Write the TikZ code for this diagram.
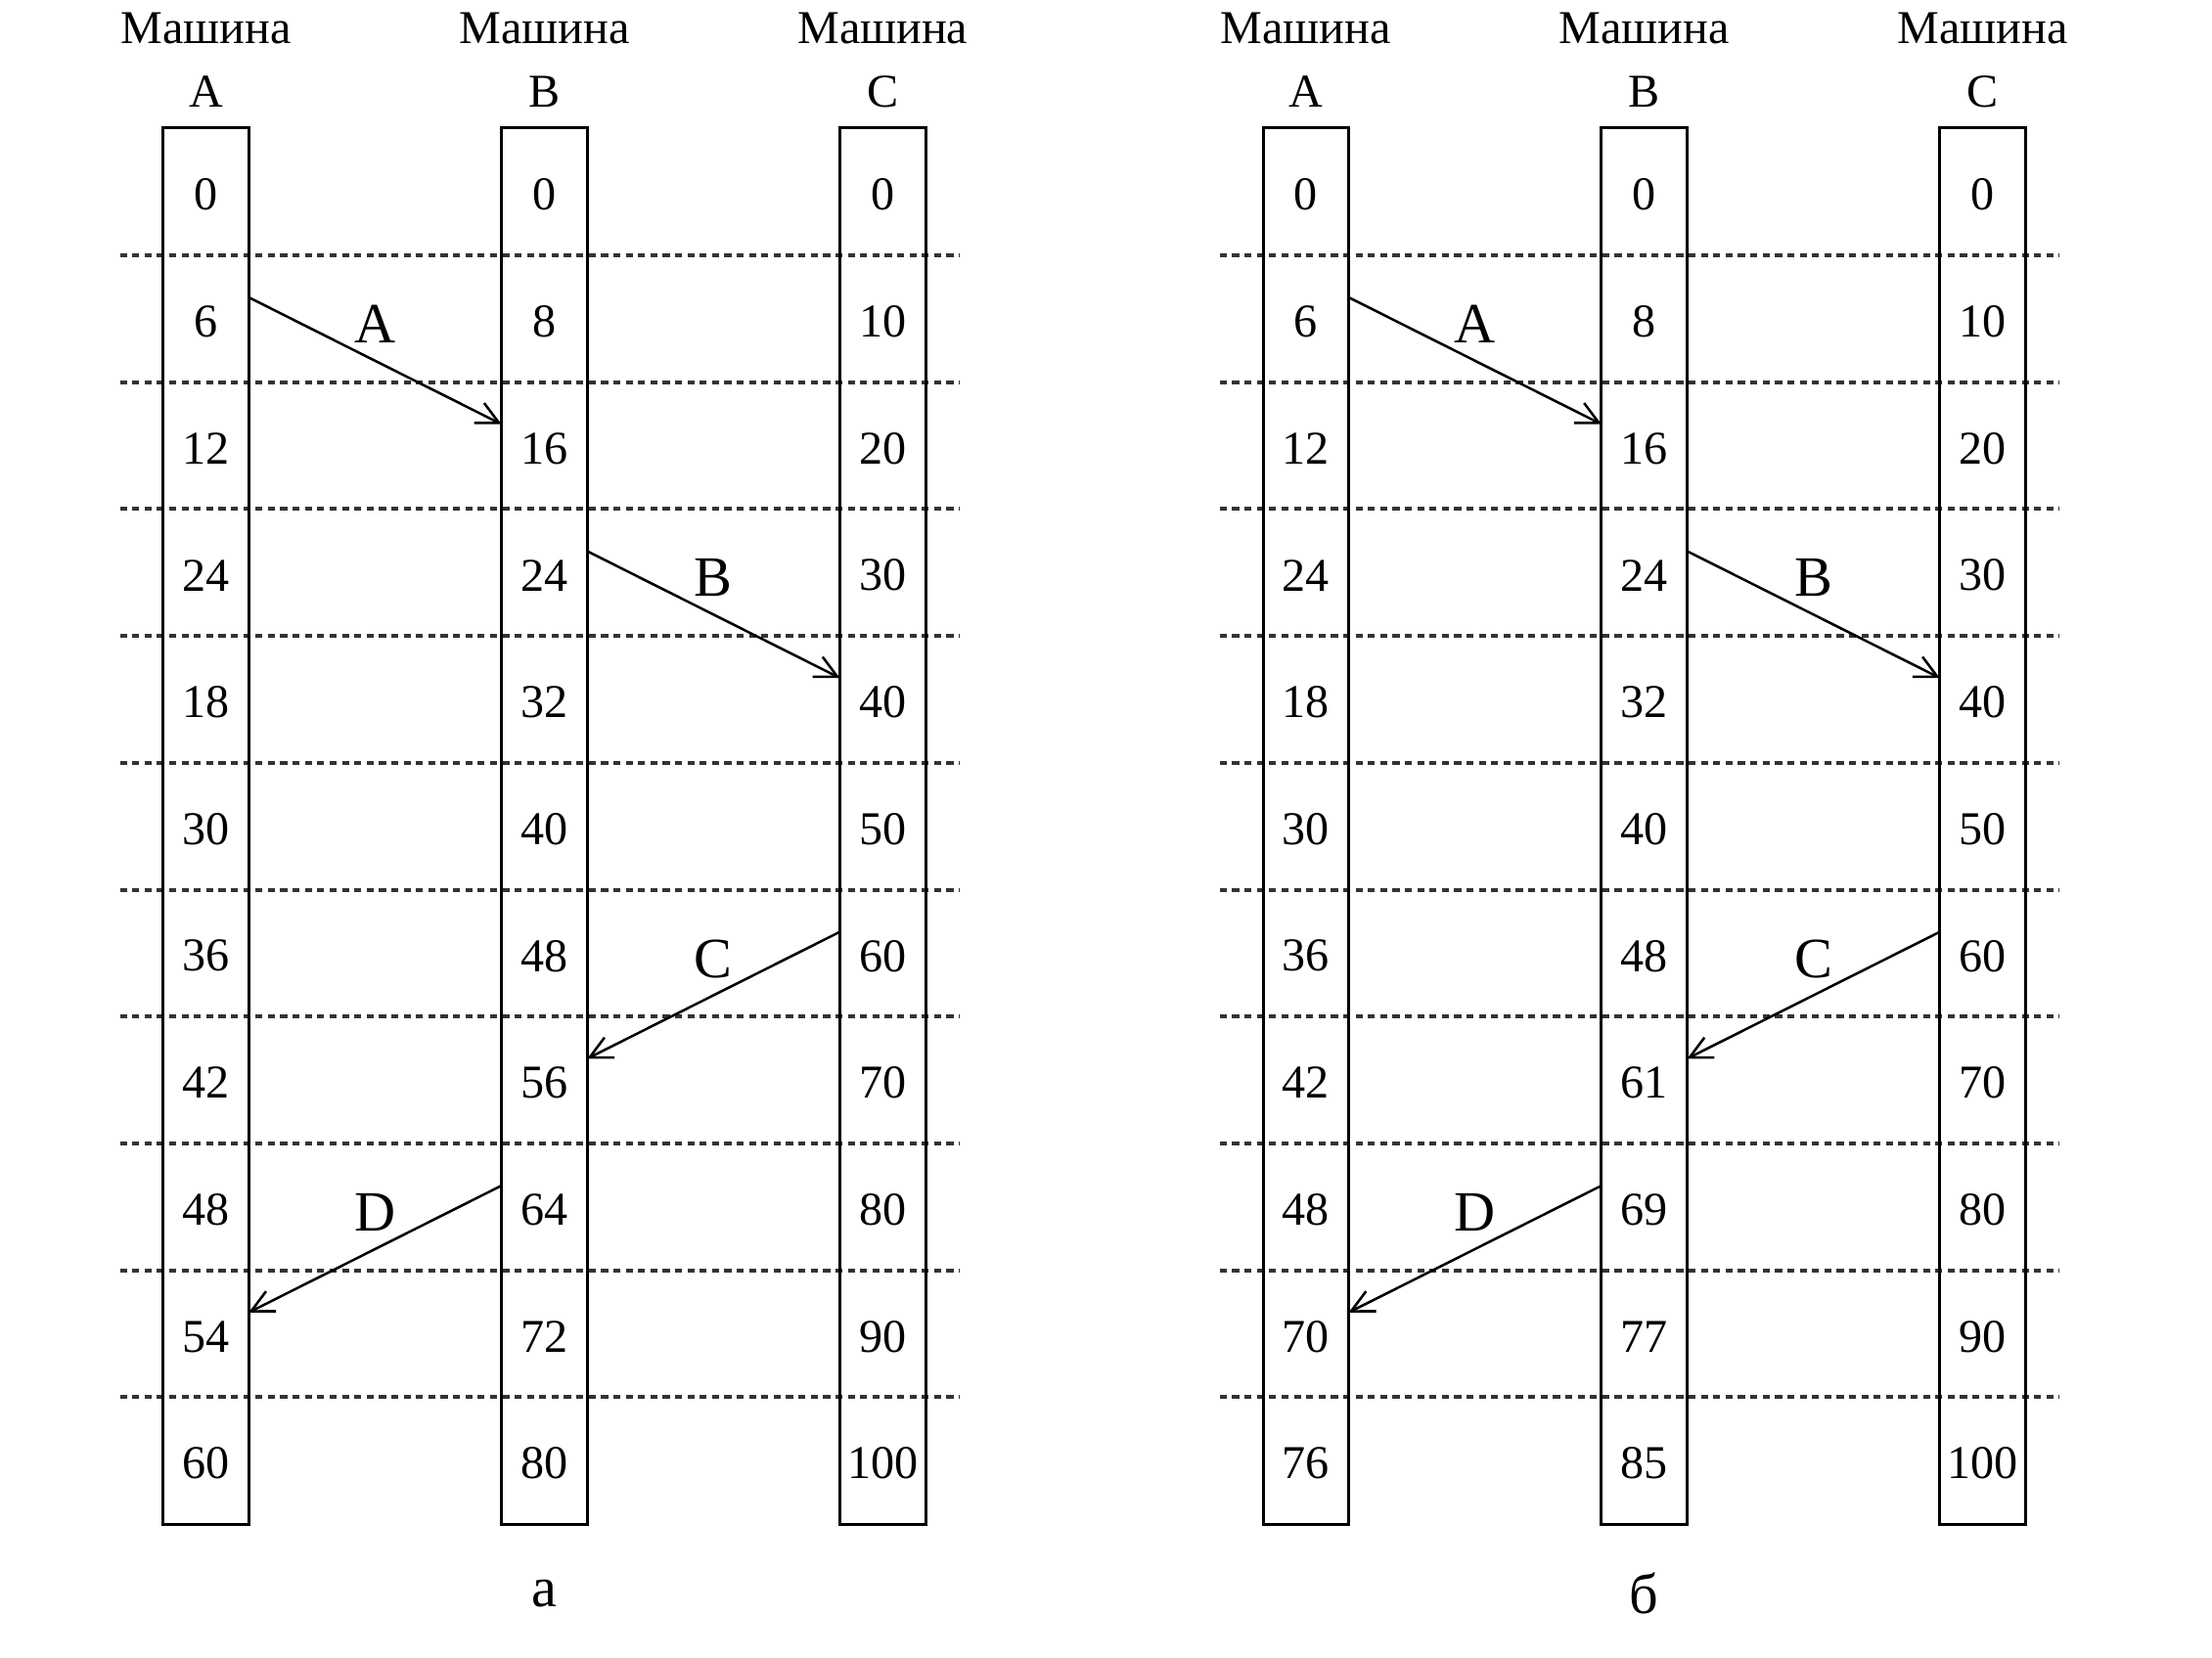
\documentclass[tikz,border=0pt]{standalone}
\usepackage{fontspec}
\setmainfont{Liberation Serif}
\usetikzlibrary{calc,arrows.meta}

\tikzset{
  cell/.style={minimum width=1.2cm, minimum height=1.8cm, inner sep=0pt, font=\fontsize{19}{22}\selectfont},
  head/.style={inner sep=0pt, font=\fontsize{19}{22}\selectfont},
  caption/.style={inner sep=0pt, font=\fontsize{23}{26}\selectfont},
  box/.style={line width=1.2pt},
  level/.style={line width=1.6pt, black!80, dash pattern=on 0.1cm off 0.075cm},
  msg/.style={line width=1pt, -{Straight Barb[length=9pt,width=9pt,line width=1pt]}},
  msglabel/.style={midway, yshift=0.52cm, inner sep=0pt, font=\fontsize{23}{26}\selectfont}
}

% one machine: name, x, letter, clock values
\newcommand{\machinecol}[4]{
  \node[head] (#1-h) at (#2,20) {Машина};
  \node[head] (#1-l) at (#2,65) {#3};
  \foreach \v [count=\k from 0] in {#4}
    \node[cell] (#1-\k) at (#2,138+90*\k) {\v};
  \draw[box] ($(#1-0.north west)+(0,-2)$) rectangle ($(#1-10.south east)+(0,-2)$);
}

\begin{document}
\begin{tikzpicture}[x=0.02cm, y=-0.02cm]
\useasboundingbox (0,0) rectangle (1568.6,1175.3);

% dashed levels
\foreach \k in {1,...,10} {
  \draw[level] (85,91+90*\k) -- (680,91+90*\k);
  \draw[level] (865,91+90*\k) -- (1460,91+90*\k);
}

% panel a
\machinecol{la}{146}{A}{0,6,12,24,18,30,36,42,48,54,60}
\machinecol{lb}{386}{B}{0,8,16,24,32,40,48,56,64,72,80}
\machinecol{lc}{626}{C}{0,10,20,30,40,50,60,70,80,90,100}

% panel b
\machinecol{ra}{926}{A}{0,6,12,24,18,30,36,42,48,70,76}
\machinecol{rb}{1166}{B}{0,8,16,24,32,40,48,61,69,77,85}
\machinecol{rc}{1406}{C}{0,10,20,30,40,50,60,70,80,90,100}

\foreach \p in {l,r} {
  \draw[msg] ($(\p a-1.north east)!1/3!(\p a-1.south east)+(0,-2)$) -- ($(\p b-2.north west)!1/3!(\p b-2.south west)+(0,-2)$)
    node[msglabel] (\p-mA) {A};
  \draw[msg] ($(\p b-3.north east)!1/3!(\p b-3.south east)+(0,-2)$) -- ($(\p c-4.north west)!1/3!(\p c-4.south west)+(0,-2)$)
    node[msglabel] (\p-mB) {B};
  \draw[msg] ($(\p c-6.north west)!1/3!(\p c-6.south west)+(0,-2)$) -- ($(\p b-7.north east)!1/3!(\p b-7.south east)+(0,-2)$)
    node[msglabel] (\p-mC) {C};
  \draw[msg] ($(\p b-8.north west)!1/3!(\p b-8.south west)+(0,-2)$) -- ($(\p a-9.north east)!1/3!(\p a-9.south east)+(0,-2)$)
    node[msglabel] (\p-mD) {D};
}

\node[caption] (capa) at (386,1130) {а};
\node[caption] (capb) at (1166,1130) {б};
\end{tikzpicture}
\end{document}
